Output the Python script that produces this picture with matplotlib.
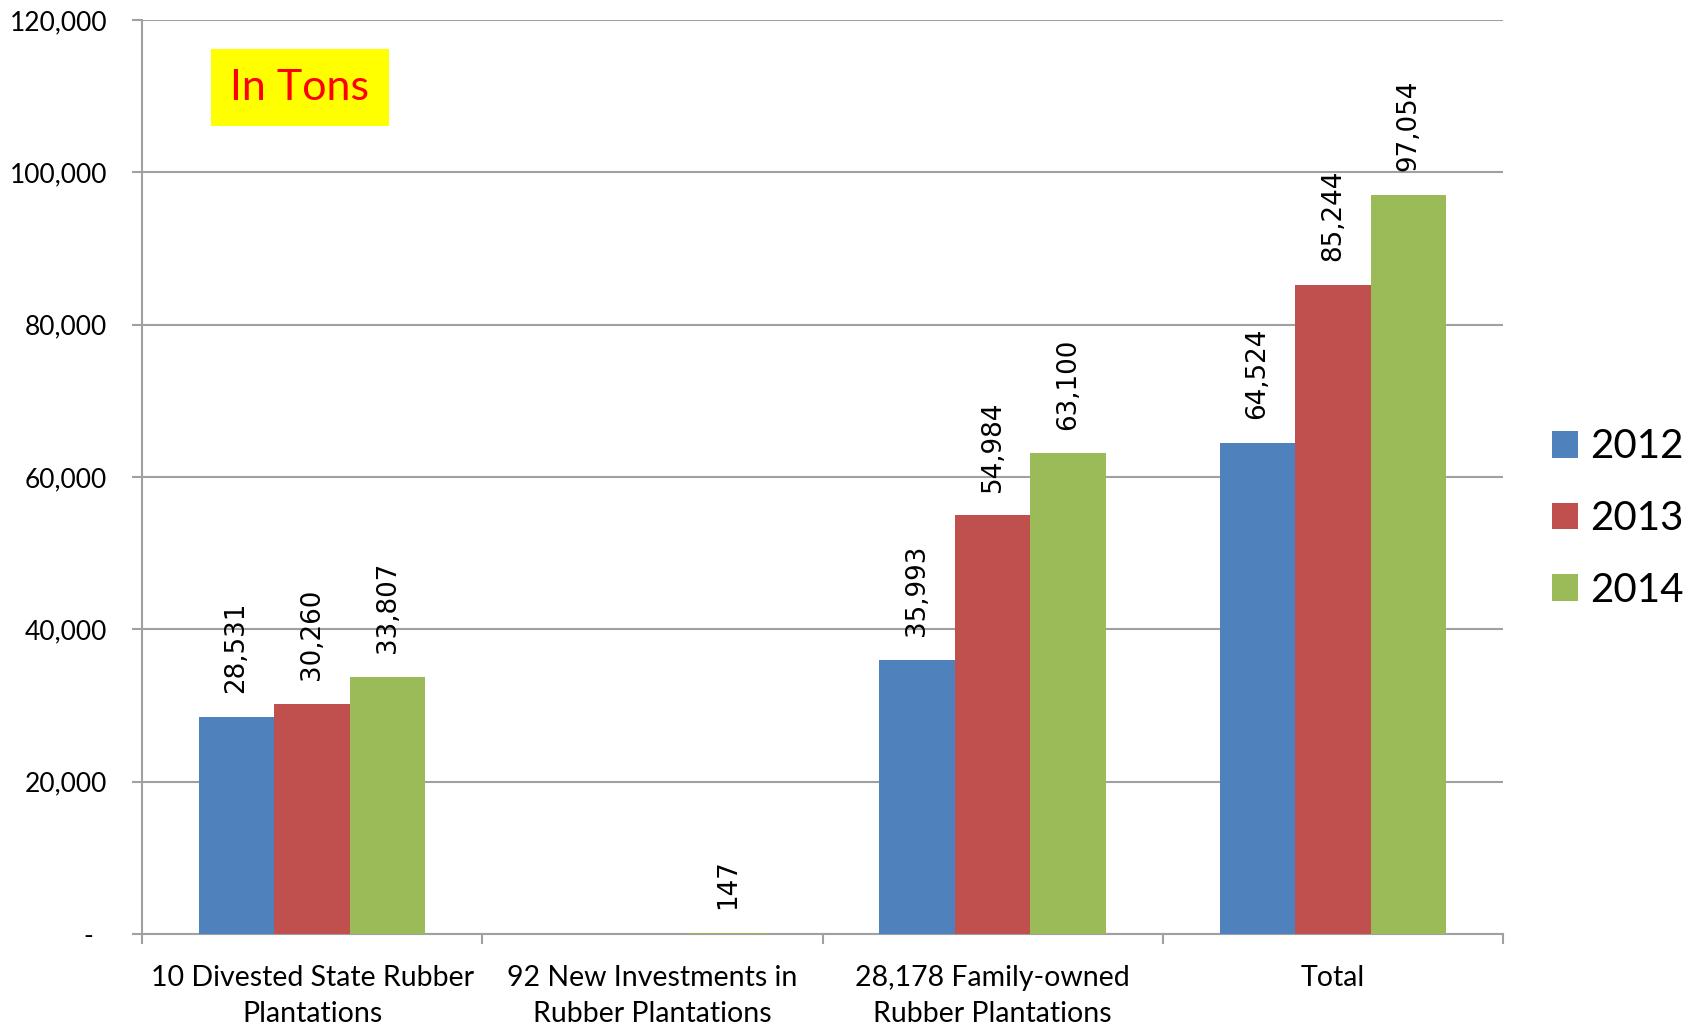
import numpy as np
import matplotlib.pyplot as plt
from matplotlib.ticker import FuncFormatter, FixedLocator

# Данни
categories = ['10 Divested State Rubber\nPlantations',
              '92 New Investments in\nRubber Plantations',
              '28,178 Family-owned\nRubber Plantations',
              'Total']
years = ['2012', '2013', '2014']
v2012 = [28531, 0, 35993, 64524]
v2013 = [30260, 0, 54984, 85244]
v2014 = [33807, 147, 63100, 97054]
colors = ['#4F81BD', '#C0504D', '#9BBB59']

fig = plt.figure(figsize=(17.03, 10.31), dpi=100)
ax = fig.add_axes([0.0834, 0.094, 0.7992, 0.8866])

x = np.arange(len(categories))
w = 0.222
series = [v2012, v2013, v2014]
for i, (vals, c, yr) in enumerate(zip(series, colors, years)):
    pos = x + (i - 1) * w
    ax.bar(pos, vals, width=w, color=c, label=yr, zorder=3)
    for px, v in zip(pos, vals):
        if v == 0:
            continue
        ax.annotate(f'{v:,}', (px, v), xytext=(0, 17), textcoords='offset points',
                    rotation=90, ha='center', va='bottom', fontsize=18.8,
                    family='DejaVu Sans', zorder=4)

ax.set_xlim(-0.5, 3.5)
ax.set_ylim(0, 120000)
ax.set_yticks(np.arange(0, 120001, 20000))
ax.yaxis.set_major_formatter(FuncFormatter(lambda v, p: '-  ' if v == 0 else f'{int(v):,}'))
ax.grid(axis='y', color='#A0A0A0', linewidth=1.5, zorder=0)

ax.set_xticks(x)
ax.set_xticklabels(categories, fontsize=20.5, family='Lato', linespacing=1.5)
ax.xaxis.set_minor_locator(FixedLocator(np.arange(-0.5, 3.6, 1)))
ax.tick_params(axis='x', which='major', length=0, pad=22)
ax.tick_params(axis='x', which='minor', length=7, width=1.5, color='#A0A0A0')
ax.tick_params(axis='y', length=7, width=1.5, color='#A0A0A0', labelsize=19, pad=18)
for lab in ax.get_yticklabels():
    lab.set_family('Lato')

for s in ['top', 'right']:
    ax.spines[s].set_visible(False)
for s in ['left', 'bottom']:
    ax.spines[s].set_color('#A0A0A0')
    ax.spines[s].set_linewidth(1.5)
ax.set_axisbelow(True)

ax.text(0.065, 0.926, 'In Tons', transform=ax.transAxes, fontsize=31, family='Lato',
        color='red', ha='left', va='center',
        bbox=dict(boxstyle='square,pad=0.45', facecolor='yellow', edgecolor='none'))

fig.legend(loc='center left', bbox_to_anchor=(0.89, 0.497), frameon=False,
           prop={'family': 'Lato', 'size': 29}, handlelength=0.65, handleheight=0.65,
           handletextpad=0.3, labelspacing=0.86)

plt.savefig('out.png', dpi=100)
